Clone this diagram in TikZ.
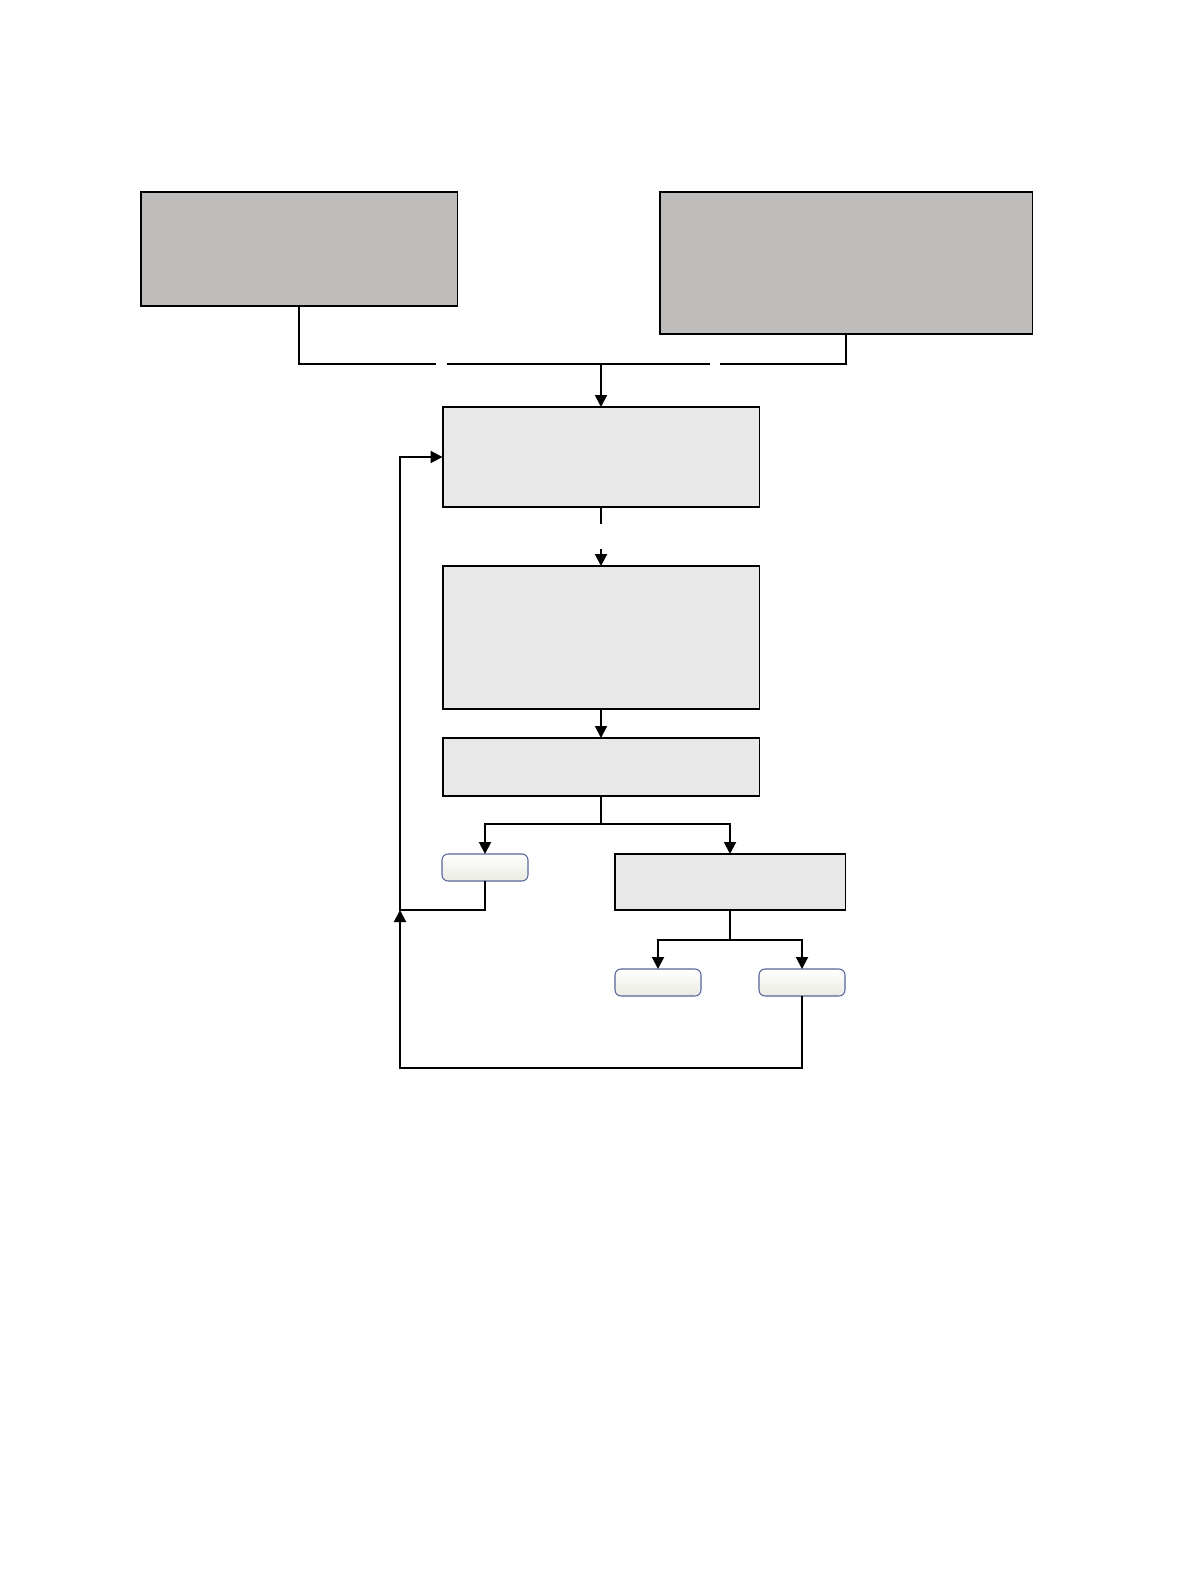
\documentclass[tikz,border=0pt]{standalone}
\usepackage{xcolor}
\definecolor{boxDark}{HTML}{BEBDBC}
\definecolor{boxLight}{HTML}{E8E8E8}
\definecolor{tagEdge}{HTML}{56659A}
\definecolor{tagShade}{HTML}{EBEBE3}
\usepackage{tikz}
\usetikzlibrary{arrows.meta,positioning,calc}

\begin{document}
\begin{tikzpicture}[
  x=0.02cm,y=-0.02cm,
  src/.style={draw=black,fill=boxDark,line width=1.1pt,inner sep=0pt,outer sep=0pt},
  stage/.style={draw=black,fill=boxLight,line width=1.1pt,inner sep=0pt,outer sep=0pt,minimum width=6.34cm},
  tag/.style={draw=tagEdge,rounded corners=1.2mm,top color=white,bottom color=tagShade,line width=0.6pt,inner sep=0pt,outer sep=0pt,minimum width=1.72cm,minimum height=0.54cm},
  arr/.style={-{Triangle[length=2.4mm,width=2.4mm]},line width=1.1pt},
  wire/.style={line width=1.1pt}
]
\useasboundingbox (0,0) rectangle (1192,1584);
% input boxes
\node[src,minimum width=6.34cm,minimum height=2.28cm] (srcA) at (299,249) {};
\node[src,minimum width=7.46cm,minimum height=2.84cm] (srcB) at (846,263) {};
% main stages
\node[stage,minimum height=2.0cm] (load) at (601,457) {};
\node[stage,minimum height=2.86cm] (proc) at (601,637.5) {};
\node[stage,minimum height=1.16cm] (check) at (601,767) {};
\node[tag] (retry) at (485,867.5) {};
\node[stage,minimum width=4.62cm,minimum height=1.12cm] (judge) at (730,882) {};
\node[tag] (pass) at (658,982.5) {};
\node[tag] (fail) at (802,982.5) {};
% merge of the two inputs
\coordinate (gapL1) at (436,364);
\coordinate (gapL2) at (447,364);
\coordinate (gapR1) at (710,364);
\coordinate (gapR2) at (720,364);
\coordinate (merge) at (601,364);
\draw[wire] (srcA.south) |- (gapL1) (gapL2) -- (gapR1) (gapR2) -| (srcB.south);
\draw[arr] (merge) -- (load.north);
% broken link load -> proc
\draw[wire] (load.south) -- ++(0,17);
\draw[arr] ($(proc.north)+(0,-17)$) coordinate (brk) -- (proc.north);
\draw[arr] (proc) -- (check);
% split after check
\draw[arr] (check.south) -- ++(0,28) coordinate (fork1) -| (retry.north);
\draw[arr] (fork1) -| (judge.north);
\draw[arr] (judge.south) -- ++(0,30) coordinate (fork2) -| (pass.north);
\draw[arr] (fork2) -| (fail.north);
% feedback loops
\coordinate (loopA) at (400,910);
\coordinate (loopB) at (400,1068);
\draw[arr] (retry.south) |- (loopA) |- (load.west);
\draw[arr] (fail.south) |- (loopB) -- (loopA);
\end{tikzpicture}
\end{document}
